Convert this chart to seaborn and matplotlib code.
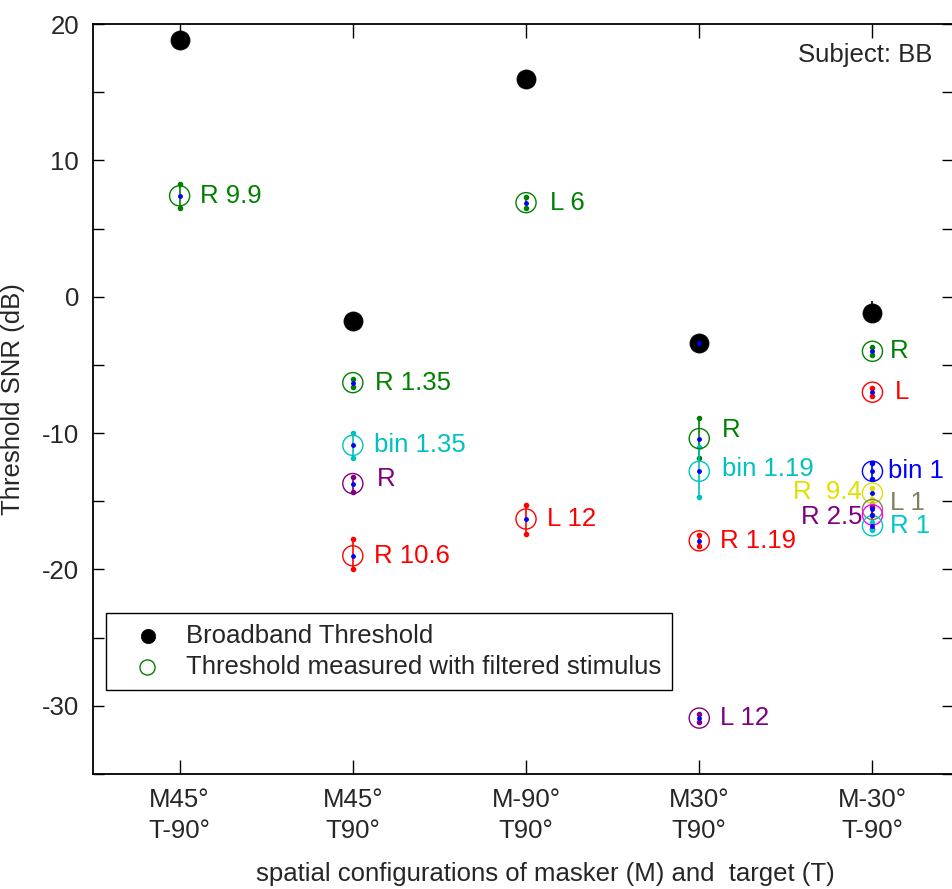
import numpy as np
import pandas as pd
import matplotlib
matplotlib.use("Agg")
import matplotlib.pyplot as plt
import seaborn as sns

# ---------------- data ----------------
configs = ["M45°\nT-90°", "M45°\nT90°", "M-90°\nT90°", "M30°\nT90°", "M-30°\nT-90°"]

# broadband thresholds (dB) and error bar ends
bb_snr = [18.8, -1.8, 16.0, -3.4, -1.2]
bb_hi = [19.4, -1.5, 16.3, -3.0, -0.3]
bb_lo = [18.4, -2.1, 15.7, -3.8, -1.6]

# thresholds measured with filtered stimulus
filt_cfg = [0, 1, 1, 1, 1, 2, 2, 3, 3, 3, 3, 4, 4, 4, 4, 4, 4, 4]
filt_snr = [7.4, -6.3, -10.9, -13.7, -19.0, 6.9, -16.3, -10.4, -12.8, -17.9, -30.9,
            -4.0, -7.0, -12.8, -14.4, -15.6, -16.0, -16.8]
filt_hi = [8.3, -6.0, -10.0, -13.2, -17.8, 7.3, -15.3, -8.9, -11.0, -17.5, -30.6,
           -3.7, -6.7, -12.2, -14.0, -15.2, -15.4, -16.5]
filt_lo = [6.5, -6.6, -11.8, -14.3, -20.0, 6.5, -17.4, -11.8, -14.7, -18.3, -31.2,
           -4.3, -7.3, -13.4, -14.8, -16.0, -17.0, -17.1]
filt_label = ["R 9.9", "R 1.35", "bin 1.35", "R", "R 10.6", "L 6", "L 12", "R", "bin 1.19",
              "R 1.19", "L 12", "R", "L", "bin 1", "R  9.4", "L 1", "R 2.5", "R 1"]
filt_color = ["#008000", "#008000", "#00C0C0", "#800080", "#FF0000", "#008000", "#FF0000",
              "#008000", "#00C0C0", "#FF0000", "#800080", "#008000", "#FF0000", "#0000FF",
              "#E0E000", "#808060", "#800080", "#00C8C8"]
ring_color = list(filt_color)
ring_color[16] = "#FF00FF"

# label placement (x offset in category units, y offset in dB)
lab_dx = [0.12, 0.13, 0.12, 0.14, 0.12, 0.14, 0.12, 0.13, 0.13, 0.12, 0.12,
          0.10, 0.13, 0.09, -0.06, 0.10, -0.06, 0.10]
lab_dy = [0, 0, 0, 0.3, 0, 0, 0, 0.6, 0.2, 0, 0, 0, 0, 0, 0.05, 0.5, -0.15, 0.0]

df = pd.DataFrame({"cfg": filt_cfg, "snr": filt_snr, "color": ring_color})
bb = pd.DataFrame({"cfg": range(len(configs)), "snr": bb_snr})

# ---------------- plot ----------------
sns.set_style("white")
plt.rcParams["font.family"] = ["Liberation Sans", "DejaVu Sans"]
plt.rcParams["axes.unicode_minus"] = False
FS = 18.5

fig = plt.figure(figsize=(9.53, 8.89), dpi=100)
ax = fig.add_axes([93 / 953, 115 / 889, 860 / 953, 750 / 889])

# broadband error bars + markers
ax.vlines(bb["cfg"], bb_lo, bb_hi, color="black", lw=1.2, zorder=2)
sns.scatterplot(data=bb, x="cfg", y="snr", color="black", s=190, edgecolor="black",
                linewidth=0.5, ax=ax, zorder=3, label="Broadband Threshold")

# filtered error bars
for i in range(len(filt_cfg)):
    c = filt_color[i]
    ax.vlines(filt_cfg[i], filt_lo[i], filt_hi[i], color=c, lw=1.2, zorder=4)
    ax.plot([filt_cfg[i]] * 2, [filt_lo[i], filt_hi[i]], ".", color=c, ms=6, zorder=4)

# open circles
for c, sub in df.groupby("color", sort=False):
    sns.scatterplot(data=sub, x="cfg", y="snr", s=210, facecolor="none", edgecolor=c,
                    linewidth=1.0, ax=ax, zorder=5, legend=False)
# blue center dots
ax.plot(filt_cfg, filt_snr, ".", color="#0000FF", ms=5, zorder=6)
ax.plot([3], [bb_snr[3]], ".", color="#0000FF", ms=5, zorder=6)

for i in range(len(filt_cfg)):
    ax.text(filt_cfg[i] + lab_dx[i], filt_snr[i] + lab_dy[i], filt_label[i],
            color=filt_color[i], fontsize=FS, va="center",
            ha="left" if lab_dx[i] > 0 else "right", zorder=7)

# legend proxy for the open circle
ax.scatter([], [], s=210, facecolor="none", edgecolor="#008000", linewidth=1.0,
           label="Threshold measured with filtered stimulus")
leg = ax.legend(loc="lower left", bbox_to_anchor=(0.015, 0.112), borderaxespad=0,
                fontsize=FS, frameon=True, fancybox=False, framealpha=1,
                edgecolor="black", borderpad=0.42, handlelength=2.4, handletextpad=0.3,
                labelspacing=0.28, markerscale=0.75)
leg.get_frame().set_linewidth(1.0)

ax.text(0.976, 0.975, "Subject: BB", transform=ax.transAxes, ha="right", va="top",
        fontsize=FS)

ax.set_xlim(-0.5, 4.465)
ax.set_ylim(-35, 20)
ax.set_xticks(range(len(configs)))
ax.set_xticklabels(configs, fontsize=FS, linespacing=1.35)
ax.set_yticks(np.arange(-30, 21, 10))
ax.set_yticklabels([str(v) for v in range(-30, 21, 10)], fontsize=FS)
ax.set_yticks(np.arange(-35, 21, 5), minor=True)
ax.tick_params(axis="both", which="both", direction="in", top=True, right=True,
               left=True, bottom=True, color="black", width=1, length=8, pad=10)
ax.tick_params(axis="x", length=10)
ax.set_xlabel("spatial configurations of masker (M) and  target (T)", fontsize=FS,
              labelpad=14)
ax.xaxis.set_label_coords(0.526, -0.118)
ax.set_ylabel("Threshold SNR (dB)", fontsize=FS, labelpad=12)
for s in ax.spines.values():
    s.set_color("black")
    s.set_linewidth(1.3)

fig.savefig("out.png", dpi=100)
